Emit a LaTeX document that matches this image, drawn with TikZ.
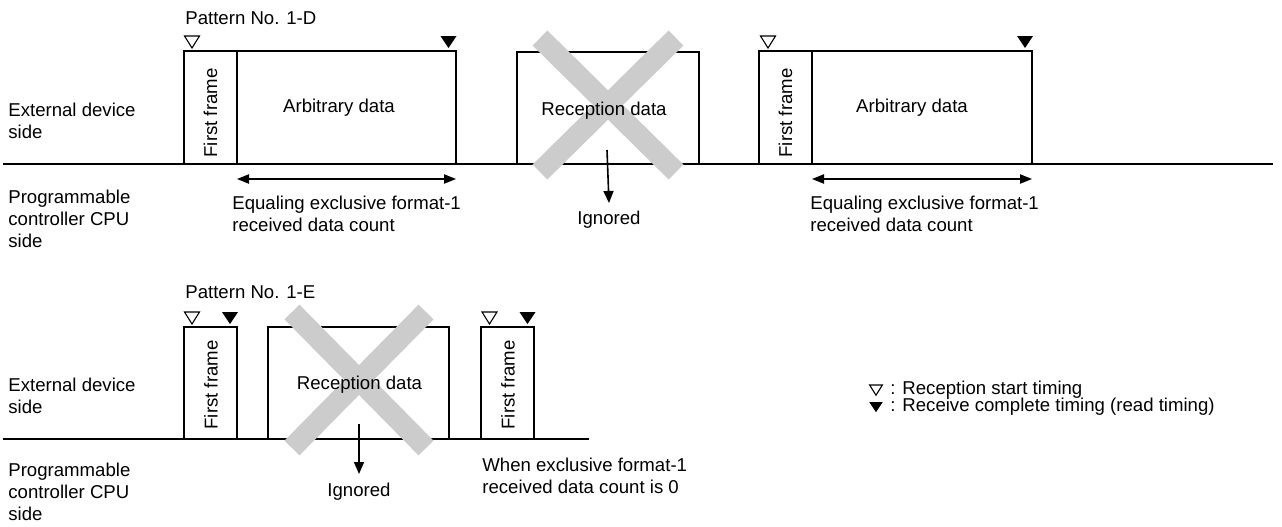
\documentclass[tikz,border=0pt]{standalone}
\usepackage{fontspec}
\setmainfont{Liberation Sans}
\usepackage{xcolor}
\usepackage{tikz}
\usetikzlibrary{arrows.meta}
\definecolor{CrossGray}{HTML}{CCCCCC}

\tikzset{
  opentri/.pic={\draw[line width=0.55pt] (-7.5,0) -- (7.5,0) -- (0,12) -- cycle;},
  filltri/.pic={\fill (-8,0) -- (8,0) -- (0,12) -- cycle;}
}

\begin{document}
\begin{tikzpicture}[
  x=0.5pt, y=-0.5pt,
  txt/.style={inner sep=0pt,font=\fontsize{9.3}{11}\selectfont},
  side/.style={txt,anchor=west,align=left},
  frame/.style={draw,line width=0.6pt},
  signal/.style={line width=1pt},
  cross/.style={draw=CrossGray,line width=10.5pt},
  arrow/.style={-{Triangle[length=6pt,width=5pt]},line width=0.8pt},
  span/.style={{Triangle[length=6pt,width=4.6pt]}-{Triangle[length=6pt,width=4.6pt]},line width=0.8pt}
]
  \useasboundingbox (0,0) rectangle (1282,526);

  % Pattern No. 1-D
  \draw[frame] (184,164) rectangle (237,51) (237,51) rectangle (456,164);
  \draw[frame] (517,164) rectangle (699,52);
  \draw[frame] (759,164) rectangle (812,51) (812,51) rectangle (1032,164);
  \draw[signal] (3,164) -- (1273,164);
  \pic at (192,36) {opentri};
  \pic at (448.5,36) {filltri};
  \pic at (768,36) {opentri};
  \pic at (1025,36) {filltri};
  \draw[cross] (540,38) -- (676,172) (676,38) -- (540,172);

  \node[txt,anchor=west] (pat1) at (185,18) {Pattern No. 1-D};
  \node[side] (ext1) at (8,121) {External device\\side};
  \node[side] (plc1) at (8,219) {Programmable\\controller CPU\\side};
  \node[txt,rotate=90] (ffa) at (210.5,113) {First frame};
  \node[txt] (arba) at (339,108) {Arbitrary data};
  \node[txt] (rcv1) at (604,111) {Reception data};
  \node[txt,rotate=90] (ffb) at (785.5,113) {First frame};
  \node[txt] (arbb) at (912,108) {Arbitrary data};

  \coordinate (spa1) at (237,179);
  \coordinate (spa2) at (456,179);
  \coordinate (spb1) at (812,179);
  \coordinate (spb2) at (1032,179);
  \draw[span] (spa1) -- (spa2);
  \draw[span] (spb1) -- (spb2);
  \node[side] (cnta) at (232,214) {Equaling exclusive format-1\\received data count};
  \node[side] (cntb) at (810,214) {Equaling exclusive format-1\\received data count};

  \coordinate (ig1) at (607,150);
  \node[txt] (ign1) at (609,220) {Ignored};
  \draw[arrow] (ig1) -- (ign1.north |- 0,203);

  % Pattern No. 1-E
  \draw[frame] (184,439) rectangle (237,327);
  \draw[frame] (268,439) rectangle (449,327);
  \draw[frame] (481,439) rectangle (534,327);
  \draw[signal] (3,439) -- (589,439);
  \pic at (192,312) {opentri};
  \pic at (230,312) {filltri};
  \pic at (489.5,312) {opentri};
  \pic at (527.5,312) {filltri};
  \draw[cross] (292,312) -- (426,448) (426,312) -- (292,448);

  \node[txt,anchor=west] (pat2) at (185,292) {Pattern No. 1-E};
  \node[side] (ext2) at (8,396) {External device\\side};
  \node[side] (plc2) at (8,492) {Programmable\\controller CPU\\side};
  \node[txt,rotate=90] (ffc) at (211,385) {First frame};
  \node[txt] (rcv2) at (359.5,385) {Reception data};
  \node[txt,rotate=90] (ffd) at (508,385) {First frame};
  \node[side] (zero) at (482,476) {When exclusive format-1\\received data count is 0};

  \coordinate (ig2) at (359,424);
  \node[txt] (ign2) at (359,492) {Ignored};
  \draw[arrow] (ig2) -- (ign2.north |- 0,474);

  % legend
  \pic[scale=0.85] at (876,385) {opentri};
  \pic[scale=0.85] at (876,402) {filltri};
  \node[side] (lgs) at (890,390) {: Reception start timing};
  \node[side] (lgc) at (890,407) {: Receive complete timing (read timing)};
\end{tikzpicture}
\end{document}
